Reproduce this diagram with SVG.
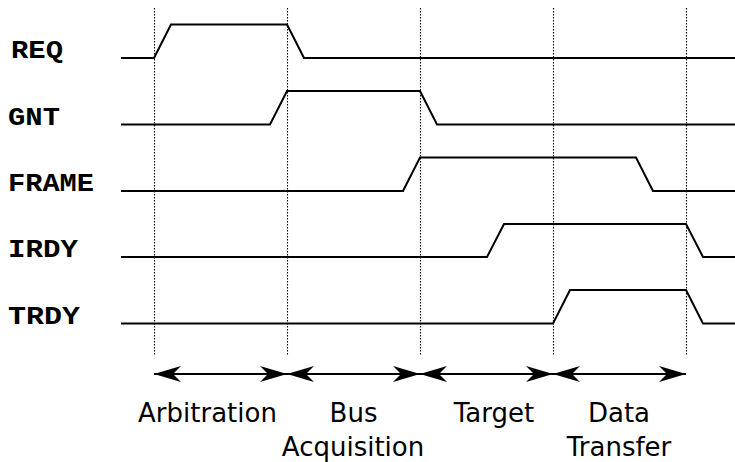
<svg xmlns="http://www.w3.org/2000/svg" width="735" height="462" viewBox="0 0 735 462">
<style>
.grid{stroke:#000;stroke-width:1.1;stroke-dasharray:1.5,1.5;fill:none}
.sig{stroke:#000;stroke-width:2;fill:none;stroke-linejoin:miter}
.lbl{font-family:"Liberation Mono","DejaVu Sans Mono",monospace;font-weight:bold;font-size:26px;fill:#000}
.ph{font-family:"DejaVu Sans",sans-serif;font-size:26px;fill:#000;text-anchor:middle}
.arr{stroke:#000;stroke-width:2;fill:none;marker-start:url(#ah);marker-end:url(#ah)}
</style>
<defs>
<marker id="ah" markerUnits="userSpaceOnUse" viewBox="-28 -9 29 18" markerWidth="29" markerHeight="18" refX="0" refY="0" orient="auto-start-reverse">
<path d="M0,0 L-27,-8 L-19,0 L-27,8 Z" fill="#000"/>
</marker>
</defs>
<rect width="735" height="462" fill="#fff"/>
<g id="gridlines">
<line class="grid" x1="154.5" y1="8" x2="154.5" y2="356"/>
<line class="grid" x1="287.5" y1="8" x2="287.5" y2="356"/>
<line class="grid" x1="420.5" y1="8" x2="420.5" y2="356"/>
<line class="grid" x1="553.5" y1="8" x2="553.5" y2="356"/>
<line class="grid" x1="686.5" y1="8" x2="686.5" y2="356"/>
</g>
<g id="REQ">
<text class="lbl" x="11" y="58" textLength="52" lengthAdjust="spacingAndGlyphs">REQ</text>
<polyline class="sig" points="121,58 154,58 171,24.5 287,24.5 304,58 735,58"/>
</g>
<g id="GNT">
<text class="lbl" x="8" y="124.5" textLength="52" lengthAdjust="spacingAndGlyphs">GNT</text>
<polyline class="sig" points="121,124.5 270,124.5 287,91 420,91 437,124.5 735,124.5"/>
</g>
<g id="FRAME">
<text class="lbl" x="8" y="191" textLength="86" lengthAdjust="spacingAndGlyphs">FRAME</text>
<polyline class="sig" points="121,191 403,191 420,157.5 636,157.5 653,191 735,191"/>
</g>
<g id="IRDY">
<text class="lbl" x="8" y="257" textLength="70" lengthAdjust="spacingAndGlyphs">IRDY</text>
<polyline class="sig" points="121,257 487,257 504,224 686,224 703,257 735,257"/>
</g>
<g id="TRDY">
<text class="lbl" x="8" y="323.5" textLength="72" lengthAdjust="spacingAndGlyphs">TRDY</text>
<polyline class="sig" points="121,323.5 553,323.5 570,290 686,290 703,323.5 735,323.5"/>
</g>
<g id="connectors">
<line class="arr" x1="154" y1="374" x2="287" y2="374"/>
<line class="arr" x1="287" y1="374" x2="420" y2="374"/>
<line class="arr" x1="420" y1="374" x2="553" y2="374"/>
<line class="arr" x1="553" y1="374" x2="686" y2="374"/>
</g>
<g id="phases">
<text class="ph" x="207.5" y="422">Arbitration</text>
<text class="ph" x="353.5" y="422">Bus</text>
<text class="ph" x="353" y="456">Acquisition</text>
<text class="ph" x="494" y="422">Target</text>
<text class="ph" x="619" y="422">Data</text>
<text class="ph" x="619" y="456">Transfer</text>
</g>
</svg>
